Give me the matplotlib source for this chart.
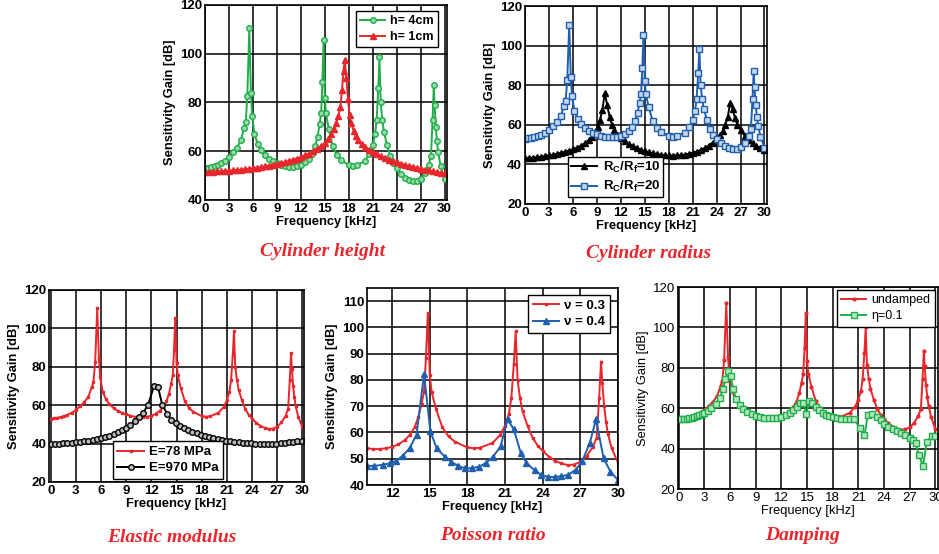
import matplotlib
matplotlib.use("Agg")
import matplotlib.pyplot as plt

plt.rcParams['font.family'] = ['Liberation Sans', 'DejaVu Sans']
plt.rcParams['mathtext.fontset'] = 'custom'
plt.rcParams['mathtext.rm'] = 'Liberation Sans'
plt.rcParams['mathtext.bf'] = 'Liberation Sans:bold'
plt.rcParams['mathtext.it'] = 'Liberation Sans:italic'

# reference response (h=4cm, Rc/Rf=20, E=78 MPa, nu=0.3)
base_f = [0, 0.4, 0.8, 1.2, 1.6, 2.0, 2.5, 3.0, 3.5, 4.0, 4.5, 4.9, 5.1, 5.3, 5.55, 5.75, 5.9, 6.2, 6.6, 7.0,
          7.5, 8.0, 8.5, 9.0, 9.5, 10.0, 10.5, 11.0, 11.5, 12.0, 12.5, 13.0, 13.4, 13.8, 14.1, 14.35, 14.55, 14.7, 14.85, 15.0,
          15.15, 15.5, 16.0, 16.5, 17.0, 18.0, 18.5, 19.0, 20.0, 20.6, 21.0, 21.3, 21.5, 21.7, 21.85, 22.0, 22.2, 22.4, 22.8, 23.2,
          23.6, 24.0, 24.5, 25.0, 25.5, 26.0, 26.5, 27.0, 27.5, 28.0, 28.3, 28.5, 28.65, 28.75, 28.9, 29.05, 29.2, 29.5, 30.0]
base_g = [53, 53.2, 53.5, 53.8, 54.3, 55, 56, 57.5, 59.5, 61.5, 64.5, 69.5, 72, 82.5, 110.5, 84, 74.5, 67, 63, 60.5,
          58.5, 57, 56, 55.2, 54.5, 54, 53.7, 53.7, 54, 54.5, 55.5, 57, 59, 62, 66, 71, 75.5, 88.5, 105.5, 82,
          75.5, 69, 62, 58.5, 56.5, 54.3, 54, 54.2, 56, 59, 62.5, 67, 73, 86, 98.5, 80, 73, 68, 62.5, 58,
          55, 53, 50.8, 49.2, 48.2, 47.6, 47.8, 48.8, 51, 54.5, 58, 73, 87, 79, 70, 64, 59.5, 54, 48.5]

# h = 1 cm
h1_f = [0, 0.5, 1, 1.5, 2, 2.5, 3, 3.5, 4, 4.5, 5, 5.5, 6, 6.5, 7, 7.5, 8, 8.5, 9, 9.5,
        10, 10.5, 11, 11.5, 12, 12.5, 13, 13.5, 14, 14.5, 15, 15.4, 15.8, 16.1, 16.4, 16.7, 16.95, 17.15, 17.35, 17.5,
        17.7, 17.9, 18.1, 18.3, 18.6, 18.9, 19.2, 19.6, 20, 20.5, 21, 21.5, 22, 22.5, 23, 23.5, 24, 24.5, 25, 25.5,
        26, 26.5, 27, 27.5, 28, 28.5, 29, 29.5, 30]
h1_g = [51.5, 51.5, 51.6, 51.7, 51.8, 51.9, 52, 52.1, 52.3, 52.4, 52.6, 52.8, 53, 53.2, 53.5, 53.8, 54.1, 54.4, 54.7, 55.1,
        55.5, 56, 56.5, 57, 57.6, 58.3, 59, 59.9, 60.9, 62, 63.4, 65, 67, 69, 71.5, 74.5, 78, 85, 93, 97.5,
        90, 81.5, 75, 71.5, 68.5, 66.2, 64.5, 63, 61.8, 60.6, 59.6, 58.8, 58, 57.3, 56.6, 56, 55.4, 54.9, 54.4, 54,
        53.6, 53.2, 52.8, 52.5, 52.2, 51.8, 51.5, 51.2, 50.9]

# Rc/Rf = 10
r10_f = [0, 0.5, 1, 1.5, 2, 2.5, 3, 3.5, 4, 4.5, 5, 5.5, 6, 6.5, 7, 7.5, 8, 8.4, 8.8, 9.1,
         9.4, 9.7, 10.0, 10.3, 10.6, 10.9, 11.2, 11.6, 12, 12.5, 13, 13.5, 14, 14.5, 15, 15.5, 16, 16.5, 17, 17.5,
         18, 18.5, 19, 19.5, 20, 20.5, 21, 21.5, 22, 22.5, 23, 23.5, 24, 24.4, 24.8, 25.1, 25.4, 25.7, 26.0, 26.3,
         26.6, 27, 27.5, 28, 28.5, 29, 29.5, 30]
r10_g = [43, 43.2, 43.4, 43.6, 43.9, 44.2, 44.5, 44.9, 45.3, 45.8, 46.3, 46.9, 47.6, 48.4, 49.4, 50.6, 52.2, 54, 56.5, 59,
         62.5, 67.5, 76, 70, 64, 60, 57.5, 55, 53.2, 51.6, 50.3, 49.2, 48.2, 47.4, 46.7, 46.1, 45.6, 45.2, 44.9, 44.6,
         44.5, 44.4, 44.5, 44.6, 44.9, 45.3, 45.8, 46.4, 47.2, 48.2, 49.5, 51, 53, 55, 57, 60, 64, 71, 68, 63.5,
         60, 57.5, 54.5, 52.3, 50.6, 49.2, 48, 47]

# E = 970 MPa
e970_f = [0, 0.5, 1, 1.5, 2, 2.5, 3, 3.5, 4, 4.5, 5, 5.5, 6, 6.5, 7, 7.5, 8, 8.5, 9, 9.5,
          10, 10.5, 11, 11.6, 12.3, 12.8, 13.3, 13.9, 14.4, 14.9, 15.4, 15.9, 16.4, 16.9, 17.4, 17.9, 18.4, 18.9, 19.4, 19.9,
          20.4, 20.9, 21.4, 21.9, 22.4, 22.9, 23.4, 23.9, 24.4, 24.9, 25.4, 25.9, 26.4, 26.9, 27.4, 27.9, 28.4, 28.9, 29.4, 29.9]
e970_g = [40, 40, 40, 40.1, 40.3, 40.4, 40.6, 40.9, 41.2, 41.5, 41.9, 42.3, 42.8, 43.4, 44.1, 44.9, 45.8, 46.9, 48.2, 49.8,
          51.5, 53.8, 56, 60, 69.8, 69.4, 60, 55.5, 52.5, 50.6, 49.2, 48, 47, 46.1, 45.3, 44.6, 44, 43.4, 42.9, 42.4,
          42, 41.6, 41.3, 41, 40.7, 40.5, 40.3, 40.1, 40, 40, 39.9, 39.9, 40, 40, 40.2, 40.4, 40.6, 40.9, 41.2, 41.5]

# nu = 0.4
nu4_f = [10.0, 10.6, 11.25, 11.85, 12.35, 12.85, 13.4, 13.95, 14.55, 15.05, 15.55, 16.2, 16.7, 17.25, 17.8, 18.35, 18.95, 19.45, 20.05, 20.65,
         21.2, 21.7, 22.25, 22.7, 23.35, 23.85, 24.4, 24.95, 25.45, 26.05, 26.65, 27.15, 27.75, 28.25, 28.85, 29.4, 30.0]
nu4_g = [47.3, 47.3, 47.7, 48.3, 49.2, 51.2, 54, 59.2, 82.3, 60.5, 54, 50.8, 48.9, 47.3, 46.4, 46.4, 47, 48.3, 50.8, 54.7,
         65, 61.2, 52.3, 48.5, 45.6, 44, 43.1, 43.1, 43.3, 43.9, 45.9, 49.1, 55.9, 65, 50.3, 45.1, 41.9]

# undamped (damping panel)
und_g = [54.7, 54.9, 55.2, 55.5, 56, 56.7, 57.7, 59.2, 61.2, 63.2, 66.2, 71.2, 73.7, 84, 112, 85.5, 76, 68.7, 64.7, 62.2,
         60.2, 58.7, 57.7, 56.9, 56.2, 55.7, 55.4, 55.4, 55.7, 56.2, 57.2, 58.7, 60.7, 63.7, 67.7, 72.7, 77, 90, 107, 83.5,
         77, 70.7, 63.7, 60.2, 58.2, 56, 55.7, 55.9, 57.7, 60.7, 64.2, 68.7, 74.7, 87.5, 100, 81.5, 74.7, 69.7, 64.2, 59.7,
         56.7, 54.7, 52.5, 50.9, 49.9, 49.3, 49.5, 50.5, 52.7, 56.2, 59.7, 74.7, 88.5, 80.7, 71.7, 65.7, 61.2, 55.7, 49.5]

# eta = 0.1
eta_f = [0, 0.3, 0.6, 0.9, 1.2, 1.5, 1.8, 2.1, 2.4, 2.7, 3.0, 3.4, 3.8, 4.3, 4.8, 5.2, 5.45, 5.75, 6.05, 6.35,
         6.7, 7.1, 7.5, 8.0, 8.5, 9.0, 9.5, 10.0, 10.5, 11.0, 11.5, 12.0, 12.5, 13.0, 13.4, 13.8, 14.2, 14.55, 14.9, 15.25,
         15.6, 16.0, 16.4, 16.8, 17.2, 17.6, 18.0, 18.5, 19.0, 19.5, 20.0, 20.5, 21.2, 21.7, 22.1, 22.6, 23.2, 23.6, 24.0, 24.5,
         25.0, 25.5, 26.0, 26.5, 27.0, 27.4, 27.7, 28.05, 28.55, 29.0, 29.6, 30.0]
eta_g = [54.5, 54.5, 54.6, 54.8, 55, 55.3, 55.7, 56.1, 56.6, 57.1, 57.7, 58.7, 60, 62, 65, 69.5, 74.5, 78.5, 76, 69.5,
         64.5, 61.5, 59.8, 58.3, 57.2, 56.3, 55.7, 55.3, 55, 55, 55.2, 55.7, 56.5, 57.7, 59, 60.8, 62.5, 62.5, 57, 63.5,
         62.5, 60.5, 59, 57.8, 56.8, 56, 55.5, 55, 54.8, 54.8, 54.8, 54.5, 50, 46.5, 56.5, 57, 55.5, 54, 52, 50.5,
         49.5, 48.5, 47.5, 46.5, 45.3, 44.5, 43, 37, 31.5, 43.5, 46, 46]

red = '#e8262b'
green = '#1fae4a'
blue = '#1f5fae'
title_font = dict(family='Liberation Serif', style='italic', weight='bold', size=14, color=red)

fig = plt.figure(figsize=(9.39, 5.54), dpi=100)


def setup(ax, xlim, ylim, xticks, yticks, bold=True):
    w = 'bold' if bold else 'normal'
    ax.set_xlim(xlim)
    ax.set_ylim(ylim)
    ax.set_xticks(xticks)
    ax.set_yticks(yticks)
    ax.grid(True, color='black', linewidth=1.1)
    ax.set_axisbelow(True)
    for s in ax.spines.values():
        s.set_linewidth(1.2)
    ax.tick_params(length=0, pad=2, labelsize=9.5)
    for lab in ax.get_xticklabels() + ax.get_yticklabels():
        lab.set_fontweight(w)
    ax.set_xlabel('Frequency [kHz]', fontsize=9.3, fontweight=w, labelpad=1)
    ax.set_ylabel('Sensitivity Gain [dB]', fontsize=9.3, fontweight=w, labelpad=3)


def leg(ax, loc, anchor, bold=True, size=9, spacing=0.3, pad=0.35):
    l = ax.legend(loc=loc, bbox_to_anchor=anchor, borderaxespad=0, fancybox=False, framealpha=1,
                  edgecolor='black', labelspacing=spacing, handlelength=2.0, handletextpad=0.4,
                  borderpad=pad, prop={'weight': 'bold' if bold else 'normal', 'size': size})
    l.get_frame().set_linewidth(1.0)


x3 = list(range(0, 31, 3))

# Cylinder height
ax1 = fig.add_axes([0.2183, 0.639, 0.2577, 0.352])
ax1.plot(base_f, base_g, color=green, lw=1.4, marker='o', ms=4, mfc='#9ad9a9', mec=green, label='h= 4cm')
ax1.plot(h1_f, h1_g, color=red, lw=1.4, marker='^', ms=4.5, mfc=red, mec=red, label='h= 1cm')
setup(ax1, (0, 30.3), (40, 120), x3, range(40, 121, 20))
leg(ax1, 'upper right', (0.965, 0.97))

# Cylinder radius
ax2 = fig.add_axes([0.559, 0.632, 0.2577, 0.357])
ax2.plot(r10_f, r10_g, color='black', lw=1.4, marker='^', ms=4.5, mfc='black', mec='black',
         label=r'$\mathbf{R_C/R_f}$=10')
ax2.plot(base_f, base_g, color=blue, lw=1.4, marker='s', ms=4, mfc='#c7d6ec', mec=blue,
         label=r'$\mathbf{R_C/R_f}$=20')
setup(ax2, (0, 30.3), (20, 120), x3, range(20, 121, 20))
leg(ax2, 'lower left', (0.18, 0.035), size=9.5, spacing=0.35, pad=0.2)

# Elastic modulus
ax3 = fig.add_axes([0.0522, 0.130, 0.2716, 0.3466])
ax3.plot(base_f, base_g, color=red, lw=1.4, marker='s', ms=2, mfc=red, mec=red, label='E=78 MPa')
ax3.plot(e970_f, e970_g, color='black', lw=1.4, marker='o', ms=4, mfc='#bbbbbb', mec='black', label='E=970 MPa')
setup(ax3, (-0.2, 30.2), (20, 120), x3, range(20, 121, 20))
leg(ax3, 'lower left', (0.25, 0.015), size=9.5)

# Poisson ratio
ax4 = fig.add_axes([0.3908, 0.1245, 0.2673, 0.3556])
ax4.plot(base_f, base_g, color=red, lw=1.4, marker='s', ms=2, mfc=red, mec=red, label='ν = 0.3')
ax4.plot(nu4_f, nu4_g, color=blue, lw=1.4, marker='^', ms=5, mfc=blue, mec=blue, label='ν = 0.4')
setup(ax4, (10, 30), (40, 115), range(12, 31, 3), range(40, 111, 10))
leg(ax4, 'upper right', (0.968, 0.964), size=9.5)

# Damping
ax5 = fig.add_axes([0.722, 0.1173, 0.2769, 0.3646])
ax5.plot(base_f, und_g, color=red, lw=1.4, marker='o', ms=2, mfc=red, mec=red, label='undamped')
ax5.plot(eta_f, eta_g, color=green, lw=1.4, marker='s', ms=5, mfc='#b4e3bf', mec=green, label='η=0.1')
setup(ax5, (-0.1, 30.3), (20, 120), x3, range(20, 121, 20), bold=False)
leg(ax5, 'upper right', (0.988, 0.985), bold=False)

fig.text(323 / 939, 1 - 252 / 554, 'Cylinder height', ha='center', va='center', **title_font)
fig.text(649 / 939, 1 - 253 / 554, 'Cylinder radius', ha='center', va='center', **title_font)
fig.text(172 / 939, 1 - 538 / 554, 'Elastic modulus', ha='center', va='center', **title_font)
fig.text(493 / 939, 1 - 535 / 554, 'Poisson ratio', ha='center', va='center', **title_font)
fig.text(803 / 939, 1 - 535 / 554, 'Damping', ha='center', va='center', **title_font)

fig.savefig('out.png', dpi=100)
